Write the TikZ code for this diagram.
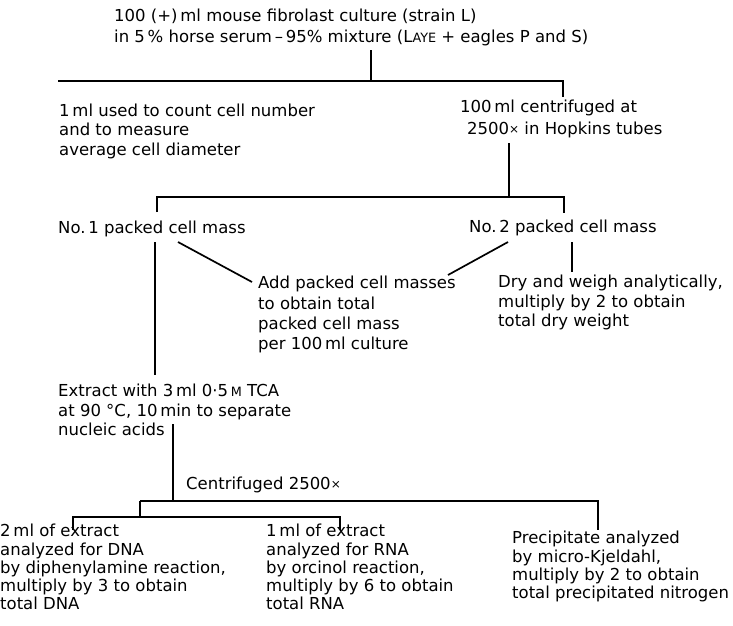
\documentclass[tikz,border=0pt]{standalone}
\usepackage{fontspec}
\setmainfont{DejaVu Sans}
\newcommand{\smc}[1]{{\fontsize{12.8}{19.5}\selectfont #1}}
\newcommand{\tms}{{\fontsize{12}{19.5}\selectfont\raisebox{1.5pt}{×}}}
\begin{document}
\begin{tikzpicture}[x=1pt,y=-1pt,
  txt/.style={anchor=north west, inner sep=0pt, align=left,
    font=\fontsize{16.5}{19.5}\selectfont, execute at begin node=\strut},
  conn/.style={line width=1.7pt, line cap=butt, line join=miter}]
\useasboundingbox (0,0) rectangle (733,625);

% text nodes
\node[txt] (top) at (114,9) {100 (+)\,ml mouse fibrolast culture (strain L)\\[1.5pt]
  in 5\,\% horse serum\,–\,95\% mixture (L\smc{AYE} + eagles P and S)};
\node[txt] (count) at (59,103.5) {1\,ml used to count cell number\\and to measure\\average cell diameter};
\node[txt] (cent) at (460,100) {100\,ml centrifuged at\\[2.5pt]\hspace*{7pt}2500\tms\ in Hopkins tubes};
\node[txt] (no1) at (58,219.5) {No.\,1 packed cell mass};
\node[txt] (no2) at (469,219) {No.\,2 packed cell mass};
\node[txt] (add) at (258,276) {Add packed cell masses\\[0.8pt]to obtain total\\[0.8pt]packed cell mass\\[0.8pt]per 100\,ml culture};
\node[txt] (dry) at (498,275) {Dry and weigh analytically,\\multiply by 2 to obtain\\total dry weight};
\node[txt] (extract) at (58,384) {Extract with 3\,ml 0·5\,\smc{M} TCA\\at 90 °C, 10\,min to separate\\nucleic acids};
\node[txt] (centr) at (186,476) {Centrifuged 2500\tms};
\node[txt] (dna) at (0,524) {2\,ml of extract\\[-1.2pt]analyzed for DNA\\[-1.2pt]by diphenylamine reaction,\\[-1.2pt]multiply by 3 to obtain\\[-1.2pt]total DNA};
\node[txt] (rna) at (266,524) {1\,ml of extract\\[-1.2pt]analyzed for RNA\\[-1.2pt]by orcinol reaction,\\[-1.2pt]multiply by 6 to obtain\\[-1.2pt]total RNA};
\node[txt] (prec) at (512,531) {Precipitate analyzed\\[-1.2pt]by micro-Kjeldahl,\\[-1.2pt]multiply by 2 to obtain\\[-1.2pt]total precipitated nitrogen};

% junction coordinates
\coordinate (a0) at (371,50);  \coordinate (a1) at (371,81);
\coordinate (aL) at (58,81);   \coordinate (aR) at (563,81);  \coordinate (aRd) at (563,97);
\coordinate (b0) at (509,143); \coordinate (b1) at (509,197);
\coordinate (bL) at (157,197); \coordinate (bLd) at (157,212);
\coordinate (bR) at (564,197); \coordinate (bRd) at (564,213);
\coordinate (c0) at (155,242); \coordinate (c1) at (155,375);
\coordinate (d0) at (178,242); \coordinate (d1) at (252,282);
\coordinate (e0) at (508,242); \coordinate (e1) at (448,275);
\coordinate (f0) at (572,242); \coordinate (f1) at (572,272);
\coordinate (g0) at (173,424); \coordinate (g1) at (173,501);
\coordinate (hL) at (140,501); \coordinate (hR) at (598,501); \coordinate (hRd) at (598,530);
\coordinate (iT) at (140,517);
\coordinate (iL) at (73,517);  \coordinate (iLd) at (73,530);
\coordinate (iR) at (340,517); \coordinate (iRd) at (340,530);

% connectors
\draw[conn] (a0) -- (a1);
\draw[conn] (aL) -- (aR) -- (aRd);
\draw[conn] (b0) -- (b1);
\draw[conn] (bLd) -- (bL) -- (bR) -- (bRd);
\draw[conn] (c0) -- (c1);
\draw[conn] (d0) -- (d1);
\draw[conn] (e0) -- (e1);
\draw[conn] (f0) -- (f1);
\draw[conn] (g0) -- (g1);
\draw[conn] (hL) -- (hR) -- (hRd);
\draw[conn] (hL) -- (iT);
\draw[conn] (iLd) -- (iL) -- (iR) -- (iRd);
\end{tikzpicture}
\end{document}
